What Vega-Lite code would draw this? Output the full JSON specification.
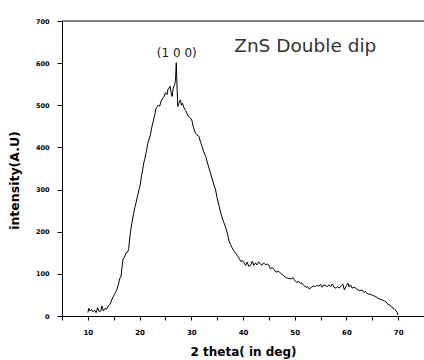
{
  "$schema": "https://vega.github.io/schema/vega-lite/v6.json",
  "autosize": {"type": "none"},
  "padding": {"left": 62, "top": 21, "right": 0, "bottom": 44},
  "width": 362,
  "height": 295,
  "background": "white",
  "config": {"view": {"stroke": null}},
  "datasets": {
    "xrd": [
      {"theta": 10.0, "intensity": 8}, {"theta": 10.2, "intensity": 18}, {"theta": 10.4, "intensity": 12}, {"theta": 10.7, "intensity": 15},
      {"theta": 11.0, "intensity": 10}, {"theta": 11.3, "intensity": 14}, {"theta": 11.6, "intensity": 8}, {"theta": 11.9, "intensity": 20},
      {"theta": 12.2, "intensity": 10}, {"theta": 12.5, "intensity": 12}, {"theta": 12.7, "intensity": 24}, {"theta": 13.0, "intensity": 12},
      {"theta": 13.3, "intensity": 18}, {"theta": 13.6, "intensity": 16}, {"theta": 14.0, "intensity": 24}, {"theta": 14.3, "intensity": 28},
      {"theta": 14.6, "intensity": 38}, {"theta": 15.0, "intensity": 48}, {"theta": 15.3, "intensity": 55}, {"theta": 15.6, "intensity": 62},
      {"theta": 15.9, "intensity": 75}, {"theta": 16.2, "intensity": 90}, {"theta": 16.4, "intensity": 93}, {"theta": 16.6, "intensity": 115},
      {"theta": 16.8, "intensity": 135}, {"theta": 17.1, "intensity": 140}, {"theta": 17.4, "intensity": 150}, {"theta": 17.7, "intensity": 152},
      {"theta": 17.9, "intensity": 160}, {"theta": 18.1, "intensity": 185}, {"theta": 18.3, "intensity": 205}, {"theta": 18.5, "intensity": 220},
      {"theta": 18.8, "intensity": 240}, {"theta": 19.1, "intensity": 258}, {"theta": 19.3, "intensity": 268}, {"theta": 19.6, "intensity": 285},
      {"theta": 19.9, "intensity": 300}, {"theta": 20.1, "intensity": 310}, {"theta": 20.4, "intensity": 335}, {"theta": 20.6, "intensity": 347},
      {"theta": 20.8, "intensity": 363}, {"theta": 21.0, "intensity": 372}, {"theta": 21.3, "intensity": 390}, {"theta": 21.6, "intensity": 410},
      {"theta": 21.8, "intensity": 418}, {"theta": 22.1, "intensity": 430}, {"theta": 22.4, "intensity": 450}, {"theta": 22.7, "intensity": 465},
      {"theta": 23.0, "intensity": 480}, {"theta": 23.1, "intensity": 489}, {"theta": 23.3, "intensity": 495}, {"theta": 23.6, "intensity": 500},
      {"theta": 23.9, "intensity": 498}, {"theta": 24.1, "intensity": 508}, {"theta": 24.4, "intensity": 515}, {"theta": 24.7, "intensity": 520},
      {"theta": 25.0, "intensity": 530}, {"theta": 25.3, "intensity": 525}, {"theta": 25.5, "intensity": 538}, {"theta": 25.7, "intensity": 541},
      {"theta": 25.9, "intensity": 545}, {"theta": 26.1, "intensity": 530}, {"theta": 26.3, "intensity": 521}, {"theta": 26.5, "intensity": 540},
      {"theta": 26.8, "intensity": 550}, {"theta": 26.95, "intensity": 560}, {"theta": 27.1, "intensity": 601}, {"theta": 27.25, "intensity": 540},
      {"theta": 27.4, "intensity": 497}, {"theta": 27.6, "intensity": 505}, {"theta": 27.9, "intensity": 513}, {"theta": 28.1, "intensity": 500},
      {"theta": 28.3, "intensity": 505}, {"theta": 28.6, "intensity": 494}, {"theta": 28.9, "intensity": 488}, {"theta": 29.2, "intensity": 480},
      {"theta": 29.5, "intensity": 473}, {"theta": 29.8, "intensity": 470}, {"theta": 30.1, "intensity": 465}, {"theta": 30.4, "intensity": 448},
      {"theta": 30.8, "intensity": 434}, {"theta": 31.1, "intensity": 430}, {"theta": 31.5, "intensity": 426}, {"theta": 31.8, "intensity": 412},
      {"theta": 32.1, "intensity": 402}, {"theta": 32.4, "intensity": 390}, {"theta": 32.8, "intensity": 378}, {"theta": 33.2, "intensity": 360},
      {"theta": 33.7, "intensity": 340}, {"theta": 34.2, "intensity": 318}, {"theta": 34.7, "intensity": 299}, {"theta": 35.0, "intensity": 280},
      {"theta": 35.4, "intensity": 260}, {"theta": 35.8, "intensity": 240}, {"theta": 36.2, "intensity": 225}, {"theta": 36.6, "intensity": 212},
      {"theta": 37.0, "intensity": 195}, {"theta": 37.3, "intensity": 178}, {"theta": 37.6, "intensity": 169}, {"theta": 37.9, "intensity": 162},
      {"theta": 38.2, "intensity": 155}, {"theta": 38.6, "intensity": 149}, {"theta": 38.9, "intensity": 143}, {"theta": 39.2, "intensity": 138},
      {"theta": 39.6, "intensity": 129}, {"theta": 39.9, "intensity": 132}, {"theta": 40.2, "intensity": 126}, {"theta": 40.5, "intensity": 120},
      {"theta": 40.8, "intensity": 128}, {"theta": 41.1, "intensity": 118}, {"theta": 41.5, "intensity": 121}, {"theta": 41.8, "intensity": 130},
      {"theta": 42.1, "intensity": 120}, {"theta": 42.4, "intensity": 126}, {"theta": 42.7, "intensity": 121}, {"theta": 43.0, "intensity": 128},
      {"theta": 43.3, "intensity": 125}, {"theta": 43.6, "intensity": 120}, {"theta": 44.0, "intensity": 126}, {"theta": 44.3, "intensity": 122},
      {"theta": 44.7, "intensity": 123}, {"theta": 45.0, "intensity": 121}, {"theta": 45.3, "intensity": 112}, {"theta": 45.7, "intensity": 115},
      {"theta": 46.0, "intensity": 110}, {"theta": 46.4, "intensity": 104}, {"theta": 46.8, "intensity": 106}, {"theta": 47.0, "intensity": 105},
      {"theta": 47.4, "intensity": 100}, {"theta": 47.8, "intensity": 97}, {"theta": 48.2, "intensity": 92}, {"theta": 48.6, "intensity": 90},
      {"theta": 48.9, "intensity": 89}, {"theta": 49.3, "intensity": 88}, {"theta": 49.7, "intensity": 91}, {"theta": 50.0, "intensity": 84},
      {"theta": 50.4, "intensity": 80}, {"theta": 50.8, "intensity": 82}, {"theta": 51.1, "intensity": 77}, {"theta": 51.4, "intensity": 78},
      {"theta": 51.8, "intensity": 72}, {"theta": 52.2, "intensity": 68}, {"theta": 52.5, "intensity": 70}, {"theta": 52.8, "intensity": 64},
      {"theta": 53.2, "intensity": 68}, {"theta": 53.6, "intensity": 71}, {"theta": 54.0, "intensity": 70}, {"theta": 54.4, "intensity": 73},
      {"theta": 54.7, "intensity": 71}, {"theta": 55.0, "intensity": 75}, {"theta": 55.3, "intensity": 68}, {"theta": 55.6, "intensity": 74},
      {"theta": 56.0, "intensity": 72}, {"theta": 56.3, "intensity": 70}, {"theta": 56.6, "intensity": 74}, {"theta": 57.0, "intensity": 70},
      {"theta": 57.3, "intensity": 76}, {"theta": 57.6, "intensity": 68}, {"theta": 58.0, "intensity": 66}, {"theta": 58.3, "intensity": 70},
      {"theta": 58.6, "intensity": 66}, {"theta": 59.0, "intensity": 72}, {"theta": 59.3, "intensity": 76}, {"theta": 59.6, "intensity": 62},
      {"theta": 60.0, "intensity": 72}, {"theta": 60.3, "intensity": 78}, {"theta": 60.5, "intensity": 69}, {"theta": 60.8, "intensity": 74},
      {"theta": 61.1, "intensity": 66}, {"theta": 61.5, "intensity": 68}, {"theta": 61.8, "intensity": 66}, {"theta": 62.2, "intensity": 62},
      {"theta": 62.6, "intensity": 60}, {"theta": 63.0, "intensity": 62}, {"theta": 63.4, "intensity": 56}, {"theta": 63.7, "intensity": 58},
      {"theta": 64.1, "intensity": 52}, {"theta": 64.5, "intensity": 52}, {"theta": 64.9, "intensity": 50}, {"theta": 65.3, "intensity": 48},
      {"theta": 65.7, "intensity": 46}, {"theta": 66.1, "intensity": 42}, {"theta": 66.5, "intensity": 40}, {"theta": 66.9, "intensity": 38},
      {"theta": 67.3, "intensity": 36}, {"theta": 67.6, "intensity": 34}, {"theta": 68.0, "intensity": 28}, {"theta": 68.4, "intensity": 26},
      {"theta": 68.8, "intensity": 20}, {"theta": 69.2, "intensity": 18}, {"theta": 69.5, "intensity": 14}, {"theta": 69.8, "intensity": 8},
      {"theta": 70.0, "intensity": 2}
    ],
    "notes": [
      {"theta": 27.2, "intensity": 625, "label": "(1  0  0)", "kind": "peak"},
      {"theta": 38.3, "intensity": 641, "label": "ZnS Double dip", "kind": "title"}
    ],
    "top": [{"intensity": 700}]
  },
  "resolve": {"axis": {"x": "independent"}},
  "layer": [
    {
      "data": {"name": "top"},
      "mark": {"type": "rule", "color": "black", "strokeWidth": 1},
      "encoding": {
        "y": {"field": "intensity", "type": "quantitative", "scale": {"domain": [0, 700]}}
      }
    },
    {
      "data": {"name": "xrd"},
      "mark": {"type": "point", "opacity": 0},
      "encoding": {
        "x": {
          "field": "theta", "type": "quantitative",
          "scale": {"domain": [5, 75], "nice": false},
          "axis": {
            "orient": "bottom",
            "title": null,
            "values": [5, 15, 25, 35, 45, 55, 65, 75],
            "labels": false,
            "domain": false,
            "grid": false,
            "tickColor": "black", "tickSize": 4
          }
        },
        "y": {"field": "intensity", "type": "quantitative"}
      }
    },
    {
      "data": {"name": "xrd"},
      "mark": {"type": "line", "color": "black", "strokeWidth": 1},
      "encoding": {
        "x": {
          "field": "theta", "type": "quantitative",
          "scale": {"domain": [5, 75], "nice": false},
          "axis": {
            "orient": "bottom",
            "title": "2 theta( in deg)",
            "values": [10, 20, 30, 40, 50, 60, 70],
            "labelOverlap": false,
            "grid": false,
            "domainColor": "black", "tickColor": "black", "tickSize": 4,
            "labelFont": "DejaVu Sans", "labelFontWeight": "bold", "labelFontSize": 7, "labelColor": "black",
            "labelPadding": 8, "labelFlush": false,
            "titleFont": "DejaVu Sans", "titleFontWeight": "bold", "titleFontSize": 12, "titleColor": "black",
            "titlePadding": 11
          }
        },
        "y": {
          "field": "intensity", "type": "quantitative",
          "scale": {"domain": [0, 700], "nice": false},
          "axis": {
            "title": "intensity(A.U)",
            "values": [0, 50, 100, 150, 200, 250, 300, 350, 400, 450, 500, 550, 600, 650, 700],
            "labelExpr": "(datum.value % 100 === 0) ? format(datum.value, 'd') : ''",
            "labelOverlap": false,
            "grid": false,
            "domainColor": "black", "tickColor": "black", "tickSize": 5,
            "labelFont": "DejaVu Sans", "labelFontWeight": "bold", "labelFontSize": 6.5, "labelColor": "black",
            "labelPadding": 8, "labelFlush": false,
            "titleFont": "DejaVu Sans", "titleFontWeight": "bold", "titleFontSize": 12.5, "titleColor": "black",
            "titlePadding": 14, "titleY": 159
          }
        }
      }
    },
    {
      "data": {"name": "notes"},
      "transform": [{"filter": "datum.kind == 'peak'"}],
      "mark": {"type": "text", "font": "DejaVu Sans", "fontSize": 12, "color": "#222", "align": "center", "baseline": "middle"},
      "encoding": {
        "x": {"field": "theta", "type": "quantitative", "axis": null},
        "y": {"field": "intensity", "type": "quantitative"},
        "text": {"field": "label"}
      }
    },
    {
      "data": {"name": "notes"},
      "transform": [{"filter": "datum.kind == 'title'"}],
      "mark": {"type": "text", "font": "DejaVu Sans", "fontSize": 18.5, "color": "#333", "align": "left", "baseline": "middle"},
      "encoding": {
        "x": {"field": "theta", "type": "quantitative", "axis": null},
        "y": {"field": "intensity", "type": "quantitative"},
        "text": {"field": "label"}
      }
    }
  ]
}
